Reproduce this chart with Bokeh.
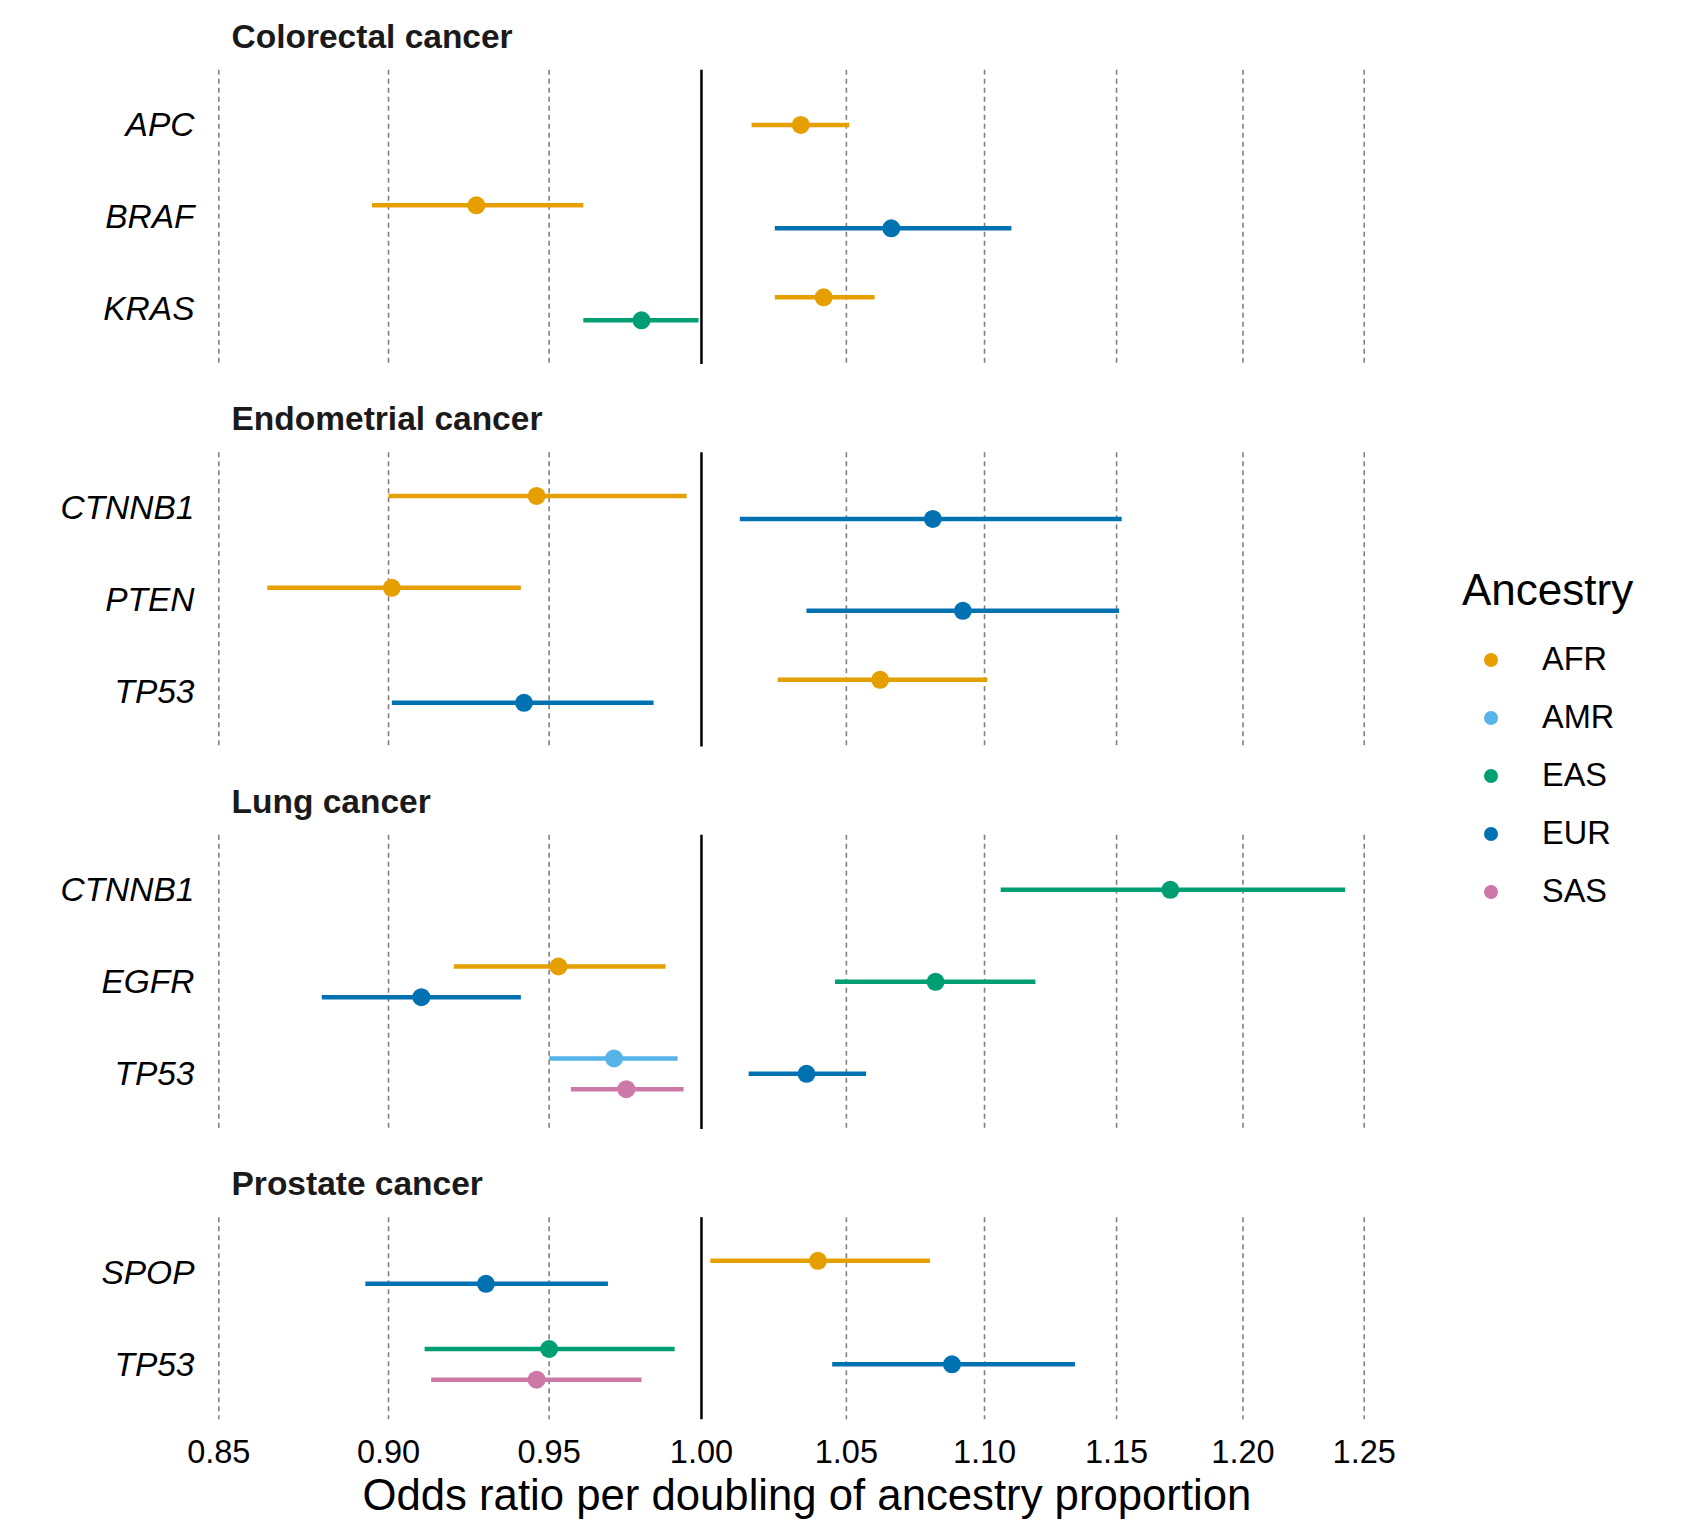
from bokeh.plotting import figure
from bokeh.models import (Range1d, FixedTicker, Legend, LegendItem, ColumnDataSource,
                          CustomJSTickFormatter, PrintfTickFormatter, Title)
from bokeh.embed import file_html
from bokeh.resources import INLINE
from bokeh.core.properties import value

# ---------------- data ----------------
cancers = ["Colorectal cancer", "Endometrial cancer", "Lung cancer", "Prostate cancer"]
genes_colorectal = ["APC", "BRAF", "KRAS"]
genes_endometrial = ["CTNNB1", "PTEN", "TP53"]
genes_lung = ["CTNNB1", "EGFR", "TP53"]
genes_prostate = ["SPOP", "TP53"]
ancestries = ["AFR", "AMR", "EAS", "EUR", "SAS"]
anc_colors = ["#E69F00", "#56B4E9", "#009E73", "#0072B2", "#CC79A7"]

row_cancer = (["Colorectal cancer"] * 5 + ["Endometrial cancer"] * 6 +
              ["Lung cancer"] * 7 + ["Prostate cancer"] * 5)
row_gene = ["APC", "BRAF", "BRAF", "KRAS", "KRAS",
            "CTNNB1", "CTNNB1", "PTEN", "PTEN", "TP53", "TP53",
            "CTNNB1", "EGFR", "EGFR", "EGFR", "TP53", "TP53", "TP53",
            "SPOP", "SPOP", "TP53", "TP53", "TP53"]
row_anc = ["AFR", "AFR", "EUR", "AFR", "EAS",
           "AFR", "EUR", "AFR", "EUR", "AFR", "EUR",
           "EAS", "AFR", "EAS", "EUR", "AMR", "EUR", "SAS",
           "AFR", "EUR", "EAS", "EUR", "SAS"]
odds_ratio = [1.034, 0.927, 1.066, 1.042, 0.980,
              0.946, 1.081, 0.901, 1.092, 1.062, 0.942,
              1.171, 0.953, 1.082, 0.910, 0.971, 1.036, 0.975,
              1.040, 0.930, 0.950, 1.088, 0.946]
ci_low = [1.017, 0.895, 1.025, 1.025, 0.961,
          0.900, 1.013, 0.864, 1.036, 1.026, 0.901,
          1.106, 0.920, 1.046, 0.880, 0.950, 1.016, 0.957,
          1.003, 0.893, 0.911, 1.045, 0.913]
ci_high = [1.051, 0.961, 1.110, 1.060, 0.999,
           0.995, 1.152, 0.941, 1.151, 1.101, 0.984,
           1.242, 0.988, 1.119, 0.941, 0.992, 1.057, 0.994,
           1.080, 0.969, 0.991, 1.134, 0.980]
x_ticks = [0.85, 0.90, 0.95, 1.00, 1.05, 1.10, 1.15, 1.20, 1.25]
x_title = "Odds ratio per doubling of ancestry proportion"
legend_title = "Ancestry"

genes_by_cancer = {
    "Colorectal cancer": genes_colorectal,
    "Endometrial cancer": genes_endometrial,
    "Lung cancer": genes_lung,
    "Prostate cancer": genes_prostate,
}

# ---------------- facet layout (row units) ----------------
EXPAND = 0.6     # discrete axis expansion
GAP = 0.959      # gap between panels
DODGE = 0.5      # dodge width
TITLE_UP = 0.365 # strip title baseline above panel top

panel_top, panel_bot = {}, {}
t = 0.0
for c in cancers:
    n = len(genes_by_cancer[c])
    panel_top[c] = t
    panel_bot[c] = t + (n - 1) + 2 * EXPAND
    t = panel_bot[c] + GAP

gene_pos = {}
tick_pos, tick_lab = [], []
for c in cancers:
    for j, g in enumerate(genes_by_cancer[c]):
        y = panel_top[c] + EXPAND + j
        gene_pos[(c, g)] = y
        tick_pos.append(y)
        tick_lab.append(g)

# dodge
ypos = []
for i in range(len(row_cancer)):
    key = (row_cancer[i], row_gene[i])
    group = sorted(row_anc[k] for k in range(len(row_cancer))
                   if (row_cancer[k], row_gene[k]) == key)
    n = len(group)
    idx = group.index(row_anc[i])
    ypos.append(gene_pos[key] + (idx - (n - 1) / 2) * DODGE / n)

y_top = -0.644
y_bottom = panel_bot["Prostate cancer"]
X_MIN, X_MAX = 0.84621, 1.39186

# ---------------- figure ----------------
FONT = "Liberation Sans"
p = figure(width=1683, height=1520, x_axis_type="log",
           x_range=Range1d(X_MIN, X_MAX), y_range=Range1d(y_bottom, y_top),
           output_backend="svg", toolbar_location=None,
           min_border_left=205, min_border_right=0, min_border_top=10,
           min_border_bottom=100)
p.outline_line_color = None
p.xgrid.visible = False
p.ygrid.visible = False
p.background_fill_color = "white"

# gridlines + reference line per panel
gx0, gy0, gy1 = [], [], []
vx, vy0, vy1 = [], [], []
for c in cancers:
    for xt in x_ticks:
        if xt != 1.0:
            gx0.append(xt); gy0.append(panel_top[c]); gy1.append(panel_bot[c])
    vx.append(1.0); vy0.append(panel_top[c]); vy1.append(panel_bot[c])
p.segment(x0=gx0, x1=gx0, y0=gy0, y1=gy1, line_color="#808080",
          line_width=1.6, line_dash="5 4")
p.segment(x0=vx, x1=vx, y0=vy0, y1=vy1, line_color="black", line_width=2.5)

# strip titles
p.text(x=[X_MIN] * len(cancers), y=[panel_top[c] - TITLE_UP for c in cancers],
       text=cancers, x_offset=26, text_font=value(FONT), text_font_style="bold",
       text_font_size="33.5px", text_color="#1a1a1a", text_align="left",
       text_baseline="alphabetic")

color_of = dict(zip(ancestries, anc_colors))
seg_src = ColumnDataSource(dict(lo=ci_low, hi=ci_high, y=ypos,
                                color=[color_of[a] for a in row_anc]))
p.segment(x0="lo", x1="hi", y0="y", y1="y", line_color="color", line_width=4.5,
          source=seg_src)

items = []
for a, col in zip(ancestries, anc_colors):
    idx = [i for i in range(len(row_anc)) if row_anc[i] == a]
    src = ColumnDataSource(dict(x=[odds_ratio[i] for i in idx], y=[ypos[i] for i in idx]))
    r = p.scatter(x="x", y="y", source=src, size=18, fill_color=col, line_color=col,
                  line_width=0)
    items.append(LegendItem(label=a, renderers=[r]))

# axes
xa = p.xaxis[0]
xa.ticker = FixedTicker(ticks=x_ticks)
xa.formatter = PrintfTickFormatter(format="%.2f")
xa.minor_tick_line_color = None
xa.major_tick_line_color = None
xa.axis_line_color = None
xa.major_tick_out = 0
xa.major_label_standoff = 20
xa.major_label_text_font = FONT
xa.major_label_text_font_size = "32.5px"
xa.major_label_text_color = "black"

ya = p.yaxis[0]
ya.ticker = FixedTicker(ticks=tick_pos)
ya.formatter = CustomJSTickFormatter(args=dict(pos=tick_pos, lab=tick_lab), code="""
    let best = 0, d = 1e9;
    for (let i = 0; i < pos.length; i++) {
        const e = Math.abs(pos[i] - tick);
        if (e < d) { d = e; best = i; }
    }
    return lab[best];
""")
ya.minor_tick_line_color = None
ya.major_tick_line_color = None
ya.axis_line_color = None
ya.major_tick_out = 0
ya.major_label_standoff = 11
ya.major_label_text_font = FONT
ya.major_label_text_font_size = "33.5px"
ya.major_label_text_font_style = "italic"
ya.major_label_text_color = "black"

# x-axis title, below the tick labels
p.add_layout(Title(text=x_title, align="left", offset=157, standoff=4,
                   text_font=FONT, text_font_size="43.7px",
                   text_font_style="normal", text_color="black"), "below")

legend = Legend(items=items, title=legend_title, location=(1257, 509),
                orientation="vertical")
legend.title_text_font = FONT
legend.title_text_font_size = "44px"
legend.title_text_font_style = "normal"
legend.title_text_color = "black"
legend.title_standoff = 26
legend.label_text_font = FONT
legend.label_text_font_size = "32.5px"
legend.label_text_color = "black"
legend.glyph_width = 57
legend.glyph_height = 35
legend.label_standoff = 23
legend.spacing = 21
legend.padding = 10
legend.margin = 0
legend.border_line_color = None
legend.background_fill_alpha = 0
p.add_layout(legend)

open("out.html", "w").write(file_html(p, INLINE))
